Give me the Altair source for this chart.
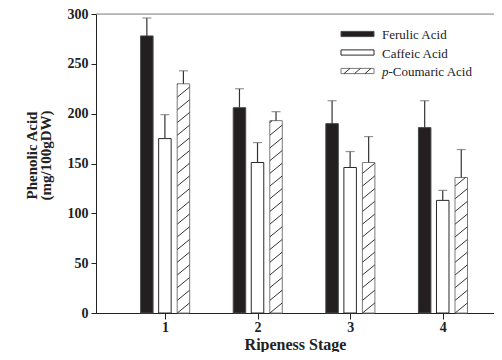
import altair as alt
import pandas as pd

# ---- data ----
stages = [1, 2, 3, 4]
acids = ["Ferulic Acid", "Caffeic Acid", "p-Coumaric Acid"]
ferulic = [278, 206, 190, 186]
ferulic_err = [18, 19, 23, 27]
caffeic = [175, 151, 146, 113]
caffeic_err = [24, 20, 16, 10]
coumaric = [230, 193, 151, 136]
coumaric_err = [13, 9, 26, 28]

series = {
    "Ferulic Acid": (ferulic, ferulic_err),
    "Caffeic Acid": (caffeic, caffeic_err),
    "p-Coumaric Acid": (coumaric, coumaric_err),
}
offsets = {"Ferulic Acid": -0.195, "Caffeic Acid": 0.0, "p-Coumaric Acid": 0.2}
fills = ["#231f20", "#ffffff", "#ffffff"]
strokes = ["#4a4a4a", "#2a2a2a", "#7a7a7a"]

rows = []
for acid in acids:
    vals, errs = series[acid]
    for s, v, e in zip(stages, vals, errs):
        rows.append({"stage": s, "acid": acid, "value": v, "top": v + e,
                     "pos": s + offsets[acid]})
df = pd.DataFrame(rows)

W, H = 398, 299
XDOM = [0.31, 0.31 + W / 95.0]
px_per_unit = W / (XDOM[1] - XDOM[0])
py_per_unit = H / 300.0
hw = 6.25 / px_per_unit
period, rise = 12.7 / py_per_unit, 10.0 / py_per_unit
hrows = []
for s, v in zip(stages, coumaric):
    xl = s + offsets["p-Coumaric Acid"] - hw
    xr = s + offsets["p-Coumaric Acid"] + hw
    k = 0
    while k * period < v - 0.5:
        y0 = k * period
        y1 = y0 + rise
        x1 = xr
        if y1 > v:
            frac = (v - y0) / rise
            x1 = xl + frac * (xr - xl)
            y1 = v
        hrows.append({"x0": xl, "x1": x1, "y0": y0, "y1": y1})
        k += 1
hdf = pd.DataFrame(hrows)

xscale = alt.Scale(domain=XDOM, nice=False, zero=False)
yscale = alt.Scale(domain=[0, 300], nice=False)

FONT = "Liberation Serif"
xaxis = alt.Axis(values=stages, format="d", title="Ripeness Stage", grid=False,
                 tickSize=6, tickColor="#222", domainColor="#222",
                 labelFont=FONT, labelFontSize=14, labelFontWeight="bold",
                 labelColor="#222", labelPadding=1,
                 titleFont=FONT, titleFontSize=16, titleFontWeight="bold",
                 titleColor="#222", titleBaseline="alphabetic", titleY=36)
yaxis = alt.Axis(values=[0, 50, 100, 150, 200, 250, 300], title=["Phenolic Acid", "(mg/100gDW)"],
                 grid=False, tickSize=5, tickColor="#222", domainColor="#222",
                 labelFont=FONT, labelFontSize=14, labelFontWeight="bold",
                 labelColor="#222", labelPadding=3,
                 titleFont=FONT, titleFontSize=15, titleFontWeight="bold",
                 titleColor="#222", titleBaseline="alphabetic", titleLineHeight=14,
                 titleAngle=270, titleAlign="center", titleX=-60, titleY=141)

base = alt.Chart(df)

bars = base.mark_bar(size=12.5, strokeWidth=1).encode(
    x=alt.X("pos:Q", scale=xscale, axis=xaxis),
    y=alt.Y("value:Q", scale=yscale, axis=yaxis),
    fill=alt.Fill("acid:N", scale=alt.Scale(domain=acids, range=fills), legend=None),
    stroke=alt.Stroke("acid:N", scale=alt.Scale(domain=acids, range=strokes), legend=None),
)

hatch = alt.Chart(hdf).mark_rule(color="#333333", strokeWidth=1).encode(
    x="x0:Q", x2="x1:Q", y="y0:Q", y2="y1:Q")

err = base.mark_rule(color="#333333", strokeWidth=1.2).encode(
    x="pos:Q", y="value:Q", y2="top:Q")
caps = base.mark_tick(orient="horizontal", size=9, thickness=1.2, color="#666666").encode(
    x="pos:Q", y="top:Q")

top_line = alt.Chart(pd.DataFrame({"y": [300]})).mark_rule(color="#8a8a8a", strokeWidth=1).encode(
    y="y:Q", x=alt.value(0), x2=alt.value(W))

# ---- manual legend ----
leg_layers = []
sx0, sx1 = 245, 278
for i, acid in enumerate(acids):
    cy = 20 + 18.5 * i
    d = pd.DataFrame({"acid": [acid]})
    leg_layers.append(alt.Chart(d).mark_rect(fill=fills[i], stroke=strokes[i], strokeWidth=1).encode(
        x=alt.value(sx0), x2=alt.value(sx1), y=alt.value(cy - 2.6), y2=alt.value(cy + 2.6)))
    if acid.startswith("p-"):
        for j in range(3):
            xa = sx0 + 3 + 10.5 * j
            leg_layers.append(alt.Chart(d).mark_rule(color="#333333", strokeWidth=1).encode(
                x=alt.value(xa), x2=alt.value(xa + 6), y=alt.value(cy + 2.6), y2=alt.value(cy - 2.6)))
        leg_layers.append(alt.Chart(d).mark_text(font=FONT, fontSize=13, fontStyle="italic",
                                                 align="left", baseline="middle", color="#222").encode(
            x=alt.value(286), y=alt.value(cy + 1), text=alt.value("p")))
        leg_layers.append(alt.Chart(d).mark_text(font=FONT, fontSize=13,
                                                 align="left", baseline="middle", color="#222").encode(
            x=alt.value(292.5), y=alt.value(cy + 1), text=alt.value(acid[1:])))
    else:
        leg_layers.append(alt.Chart(d).mark_text(font=FONT, fontSize=13,
                                                 align="left", baseline="middle", color="#222").encode(
            x=alt.value(286), y=alt.value(cy + 1), text="acid:N"))

chart = alt.layer(top_line, bars, hatch, err, caps, *leg_layers).properties(
    width=W, height=H, autosize="none",
    padding={"left": 88, "top": 6, "right": 0, "bottom": 39},
).configure_view(stroke=None).configure(background="white")

chart.save("out.html", embed_options={"renderer": "svg", "actions": False})
